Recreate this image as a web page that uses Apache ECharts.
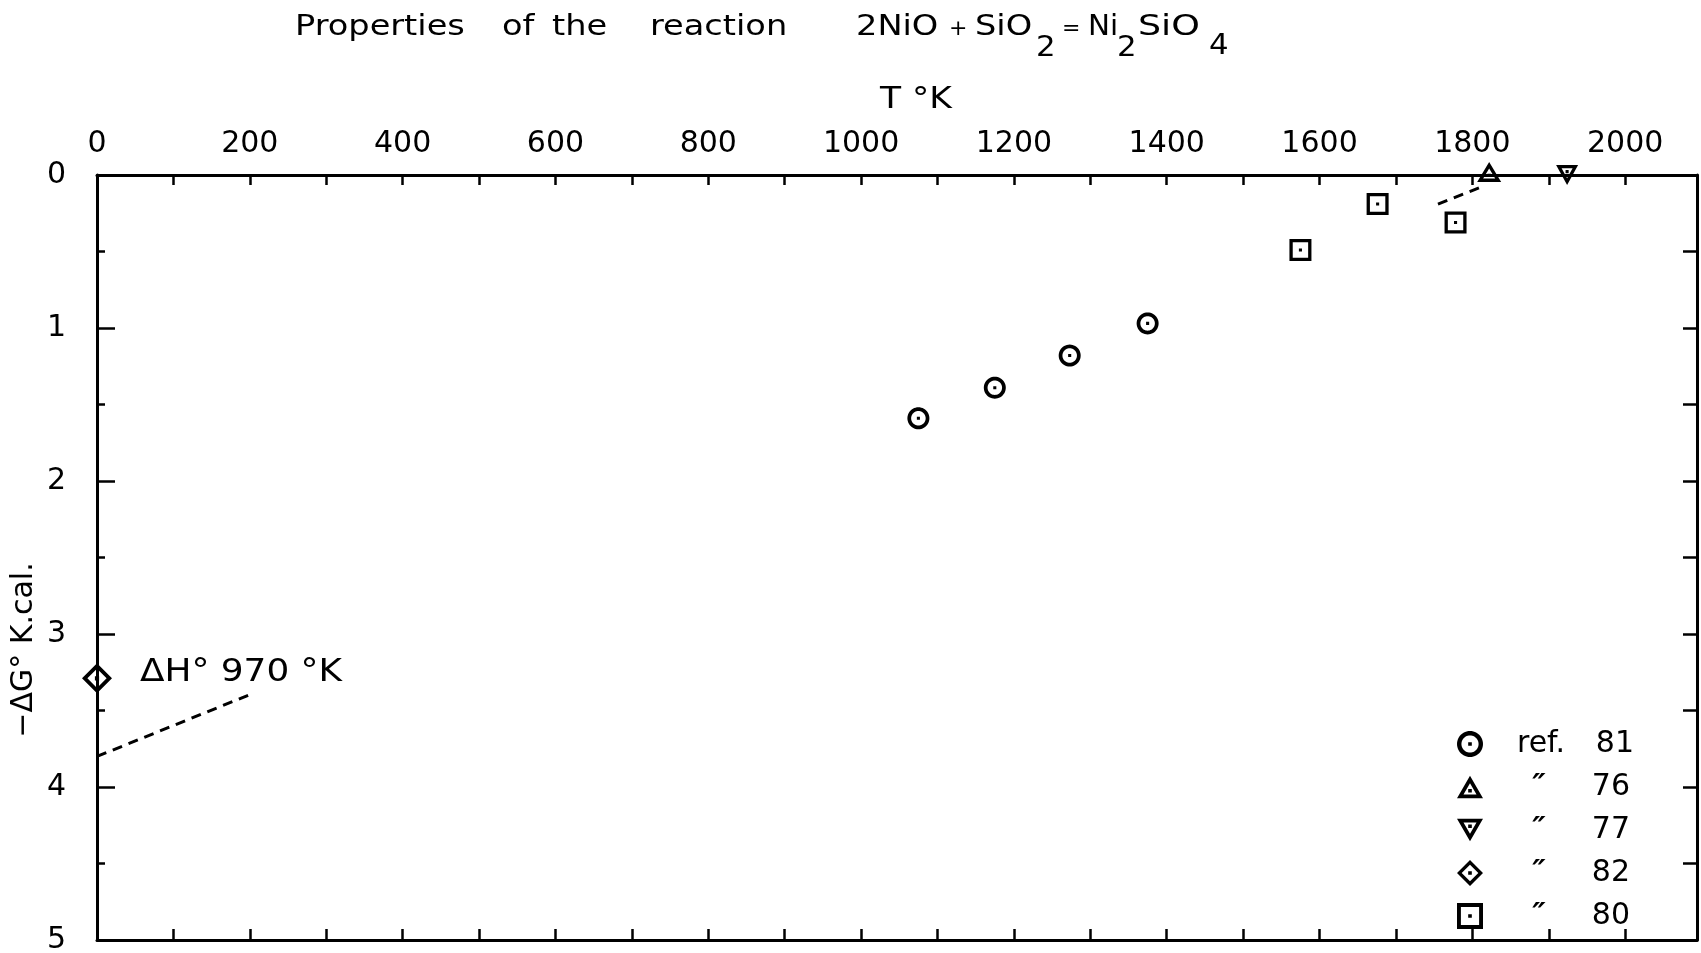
<!DOCTYPE html>
<html>
<head>
<meta charset="utf-8">
<title>2NiO + SiO2 = Ni2SiO4</title>
<script src="https://cdn.jsdelivr.net/npm/echarts@6/dist/echarts.min.js"></script>
<style>
  html, body { margin: 0; padding: 0; background: #fff; }
  #main { width: 1701px; height: 953px; }
</style>
</head>
<body>
<div id="main"></div>
<script>
// points: [T in K, -dG in kcal]
var ref81 = [[1075, 1.59], [1175, 1.39], [1273, 1.18], [1375, 0.97]];
var ref76 = [[1822, -0.02]];
var ref77 = [[1924, 0.0]];
var ref82 = [[0, 3.29]];
var ref80 = [[1575, 0.49], [1676, 0.19], [1778, 0.31]];
// dashed guide lines
var dashLow = [[0, 3.80], [203, 3.39]];
var dashHigh = [[1755, 0.19], [1811, 0.08]];

var xMin = 0, xMax = 2094, xStep = 100, xLabelStep = 200;
var yMin = 0, yMax = 5, yStep = 1;
var legendNames = ['ref. 81', '\u2033 76', '\u2033 77', '\u2033 82', '\u2033 80'];

var FONT = '"DejaVu Sans", sans-serif';
var INK = '#000';

// hollow marker with a centre dot, as one filled path (outer cw, inner ccw)
function poly(pts) {
  return 'M' + pts.map(function (p) { return p[0].toFixed(2) + ' ' + p[1].toFixed(2); }).join(' L') + ' Z ';
}
function hollow(outer, c, s) {
  var inner = outer.map(function (p) {
    return [c[0] + s * (p[0] - c[0]), c[1] + s * (p[1] - c[1])];
  }).reverse();
  var dot = [[c[0] - 7, c[1] - 7], [c[0] + 7, c[1] - 7], [c[0] + 7, c[1] + 7], [c[0] - 7, c[1] + 7]];
  return 'path://' + poly(outer) + poly(inner) + poly(dot);
}
var circlePts = [];
for (var i = 0; i < 48; i++) {
  var a = i / 48 * Math.PI * 2;
  circlePts.push([50 + 50 * Math.cos(a), 50 + 50 * Math.sin(a)]);
}
var SYM = {
  circle: hollow(circlePts, [50, 50], 0.66),
  triUp: hollow([[50, 0], [100, 86.6], [0, 86.6]], [50, 57.7], 0.5),
  triDown: hollow([[0, 0], [100, 0], [50, 86.6]], [50, 28.9], 0.5),
  diamond: hollow([[50, 0], [100, 50], [50, 100], [0, 50]], [50, 50], 0.64),
  square: hollow([[0, 0], [100, 0], [100, 100], [0, 100]], [50, 50], 0.7)
};

function marks(name, data, symbol, size) {
  return {
    name: name, type: 'scatter', data: data,
    symbol: symbol, symbolSize: size, clip: false, z: 5,
    itemStyle: { color: INK, opacity: 1 },
    emphasis: { disabled: true }
  };
}
function dashed(data) {
  return {
    type: 'line', data: data, showSymbol: false, silent: true, z: 4,
    lineStyle: { color: INK, width: 3, type: [10, 7] }
  };
}
// stretched lettering, like the hand stencil of the original
function word(text, x, y, size, sx) {
  return {
    type: 'text', x: x, y: y, scaleX: sx || 1.2,
    style: { text: text, font: size + 'px ' + FONT, fill: INK, align: 'left', verticalAlign: 'top' }
  };
}

var tickStyle = { color: INK, width: 2.5 };
var lineStyle = { color: INK, width: 3 };
var chart = echarts.init(document.getElementById('main'));

chart.setOption({
  backgroundColor: '#fff',
  animation: false,
  grid: { left: 97, right: 4, top: 175, bottom: 13, outerBoundsMode: 'none' },
  xAxis: [{
    type: 'value', position: 'top', min: xMin, max: xMax, interval: xStep,
    axisLine: { onZero: false, lineStyle: lineStyle },
    axisTick: { inside: true, length: 10, lineStyle: tickStyle },
    splitLine: { show: false },
    axisLabel: {
      color: INK, fontSize: 30, fontFamily: FONT, margin: 16,
      formatter: function (v) { return v % xLabelStep === 0 ? String(v) : ''; }
    }
  }, {
    type: 'value', position: 'bottom', min: xMin, max: xMax, interval: xStep,
    axisLine: { onZero: false, lineStyle: lineStyle },
    axisTick: { inside: true, length: 11, lineStyle: tickStyle },
    splitLine: { show: false },
    axisLabel: { show: false }
  }],
  yAxis: [{
    type: 'value', position: 'left', inverse: true, min: yMin, max: yMax, interval: yStep,
    axisLine: { onZero: false, lineStyle: lineStyle },
    axisTick: { inside: true, length: 18, lineStyle: tickStyle },
    minorTick: { show: true, splitNumber: 2, length: 8, lineStyle: tickStyle },
    splitLine: { show: false },
    axisLabel: { color: INK, fontSize: 30, fontFamily: FONT, margin: 31 }
  }, {
    type: 'value', position: 'right', inverse: true, min: yMin, max: yMax, interval: yStep,
    axisLine: { onZero: false, lineStyle: lineStyle },
    axisTick: { inside: true, length: 14, lineStyle: tickStyle },
    minorTick: { show: true, splitNumber: 2, length: 14, lineStyle: tickStyle },
    splitLine: { show: false },
    axisLabel: { show: false }
  }],
  legend: {
    data: legendNames, orient: 'vertical', left: 1452, top: 724,
    itemWidth: 26, itemHeight: 26, itemGap: 13, selectedMode: false,
    textStyle: {
      color: INK, fontSize: 30, fontFamily: FONT,
      rich: {
        pad: { width: 22, fontSize: 30 },
        a: { width: 62, align: 'center', fontSize: 30, fontFamily: FONT, color: INK },
        d: { width: 58, align: 'center', fontSize: 30, fontFamily: FONT, fontWeight: 'bold', fontStyle: 'italic', color: INK },
        b: { width: 62, align: 'right', fontSize: 30, fontFamily: FONT, color: INK }
      }
    },
    formatter: function (name) {
      var p = name.split(' ');
      if (p[0] === 'ref.') return '{pad| }{a|' + p[0] + '}{b|' + p[1] + '}';
      return '{pad| }{d|' + p[0] + '}{b|' + p[1] + '}';
    }
  },
  graphic: [
    // title
    word('Properties', 295, 14, 28),
    word('of', 502, 14, 28),
    word('the', 552, 14, 28),
    word('reaction', 650, 14, 28),
    word('2NiO', 856, 14, 28),
    word('+', 949, 18, 22, 1),
    word('SiO', 975, 14, 28),
    word('2', 1036, 35, 28, 1.1),
    word('=', 1062, 18, 22, 1),
    word('Ni', 1088, 14, 28, 1.05),
    word('2', 1117, 35, 28, 1.1),
    word('SiO', 1138, 14, 28, 1.3),
    word('4', 1209, 33, 28, 1.1),
    // axis names
    word('T \u00b0K', 880, 85, 30, 1.15),
    {
      type: 'text', x: 24, y: 650, rotation: Math.PI / 2,
      style: { text: '\u2212\u0394G\u00b0 K.cal.', font: '30px ' + FONT, fill: INK, align: 'center', verticalAlign: 'middle' }
    },
    // annotation
    word('\u0394H\u00b0 970 \u00b0K', 140, 657, 32, 1.12)
  ],
  series: [
    marks(legendNames[0], ref81, SYM.circle, 22),
    marks(legendNames[1], ref76, SYM.triUp, [24, 20]),
    marks(legendNames[2], ref77, SYM.triDown, [22, 20]),
    marks(legendNames[3], ref82, SYM.diamond, 30),
    marks(legendNames[4], ref80, SYM.square, 22),
    dashed(dashLow),
    dashed(dashHigh)
  ]
});
</script>
</body>
</html>
